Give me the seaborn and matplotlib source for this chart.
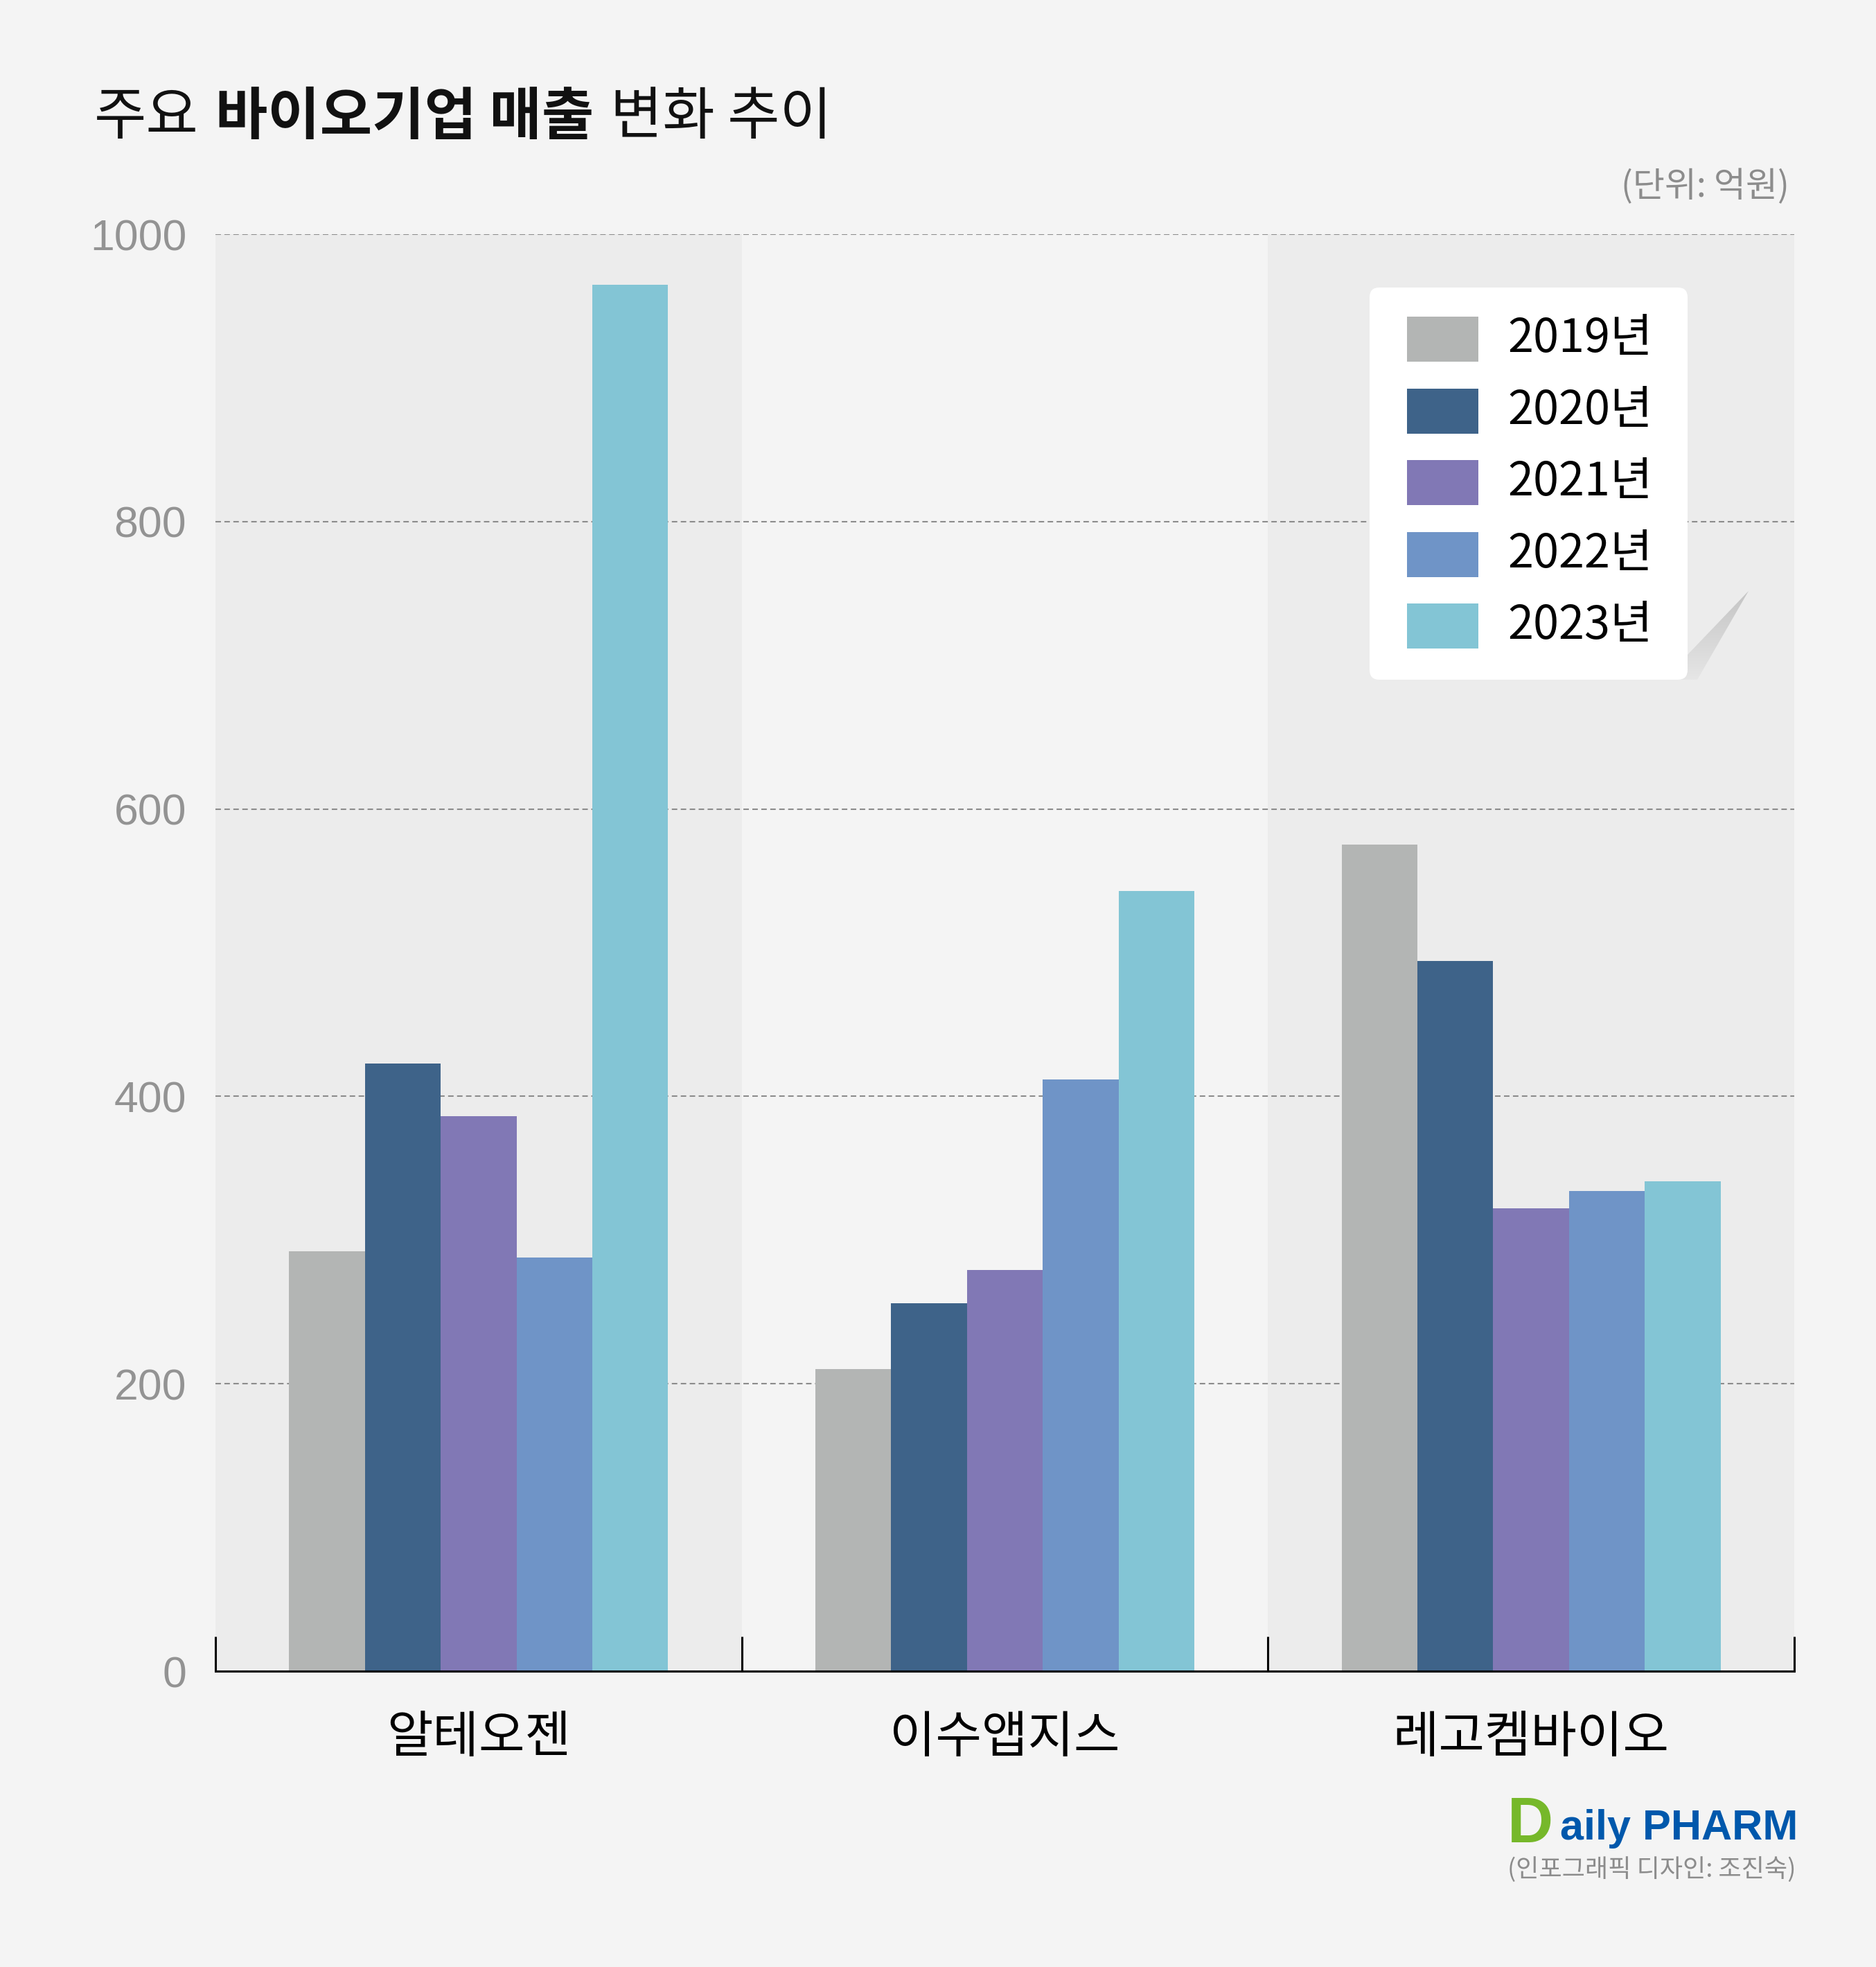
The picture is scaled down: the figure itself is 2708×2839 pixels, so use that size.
import numpy as np
import pandas as pd
import matplotlib
matplotlib.use('Agg')
import matplotlib.pyplot as plt
import seaborn as sns
from matplotlib.patches import FancyBboxPatch, Polygon, Rectangle
from matplotlib.colors import LinearSegmentedColormap

# ---------------- data ----------------
companies = ['알테오젠', '이수앱지스', '레고켐바이오']
years = ['2019년', '2020년', '2021년', '2022년', '2023년']
sales_2019 = [292, 210, 575]
sales_2020 = [423, 256, 494]
sales_2021 = [386, 279, 322]
sales_2022 = [288, 412, 334]
sales_2023 = [965, 543, 341]
year_colors = ['#B3B5B4', '#3E6389', '#8178B5', '#6F94C7', '#83C5D5']
y_ticks = [0, 200, 400, 600, 800, 1000]
title_parts = [('주요', 'normal'), ('바이오기업 매출', 'bold'), ('변화 추이', 'normal')]
unit_text = '(단위: 억원)'
credit_text = '(인포그래픽 디자인: 조진숙)'

series = [sales_2019, sales_2020, sales_2021, sales_2022, sales_2023]
rows = [(c, y, v) for y, vals in zip(years, series) for c, v in zip(companies, vals)]
df = pd.DataFrame(rows, columns=['company', 'year', 'value'])

# ---------------- figure ----------------
W, H = 2708, 2839
BG = '#F4F4F4'
BAND = '#ECECEC'
sns.set_theme(style='white')
plt.rcParams['font.family'] = ['Noto Sans CJK KR', 'DejaVu Sans']

fig = plt.figure(figsize=(W / 100, H / 100), dpi=100, facecolor=BG)
ax = fig.add_axes([311 / W, 1 - 2412 / H, (2590 - 311) / W, (2412 - 338) / H])
ax.set_facecolor(BG)

sns.barplot(data=df, x='company', y='value', hue='year', order=companies,
            hue_order=years, palette=year_colors, width=0.72, saturation=1,
            linewidth=0, errorbar=None, legend=False, ax=ax, zorder=2)

for i in (0, 2):
    ax.axvspan(i - 0.5, i + 0.5, color=BAND, lw=0, zorder=0.1)

ax.set_xlim(-0.5, 2.5)
ax.set_ylim(0, 1000)
ax.set_axisbelow(True)
ax.yaxis.grid(True, color='#8C8C8C', lw=1.5, ls=(0, (3.8, 2.4)))
ax.xaxis.grid(False)
ax.set_xlabel('')
ax.set_ylabel('')

ax.set_yticks(y_ticks)
ax.set_yticklabels([str(v) for v in y_ticks])
ax.tick_params(axis='y', length=0, pad=30, labelsize=45, labelcolor='#939393')
for lab in ax.get_yticklabels():
    lab.set_fontfamily(['Liberation Sans', 'DejaVu Sans'])

ax.tick_params(axis='x', which='major', length=0, pad=43, labelsize=52, labelcolor='black')
ax.set_xticks([-0.5, 0.5, 1.5, 2.5], minor=True)
ax.tick_params(axis='x', which='minor', direction='in', length=36, width=2.2,
               color='black', bottom=True)

for s in ('left', 'top', 'right'):
    ax.spines[s].set_visible(False)
ax.spines['bottom'].set_color('black')
ax.spines['bottom'].set_linewidth(2.2)
ax.spines['bottom'].set_zorder(5)

# ---------------- overlay in pixel coords ----------------
ov = fig.add_axes([0, 0, 1, 1], zorder=5)
ov.set_xlim(0, W)
ov.set_ylim(H, 0)
ov.axis('off')
ov.patch.set_alpha(0)

# legend page-curl shadow
curl = Polygon([(2436, 945), (2524, 853), (2450, 981), (2420, 981)],
               closed=True, fc='none', ec='none')
ov.add_patch(curl)
grad = np.linspace(0, 1, 100).reshape(-1, 1) * np.ones((1, 100))
cmap = LinearSegmentedColormap.from_list('curl', ['#E6E6E6', '#C4C4C4'])
im = ov.imshow(grad, extent=(2420, 2524, 853, 981), cmap=cmap, origin='upper',
               aspect='auto', zorder=1)
im.set_clip_path(curl)
ov.set_xlim(0, W)
ov.set_ylim(H, 0)

box = FancyBboxPatch((1977, 415), 459, 566, boxstyle='round,pad=0,rounding_size=14',
                     fc='white', ec='none', zorder=2)
ov.add_patch(box)
for i, (yr, col) in enumerate(zip(years, year_colors)):
    cy = 489.5 + i * 103.5
    ov.add_patch(Rectangle((2031, cy - 32.5), 103, 65, fc=col, ec='none', zorder=3))
    ov.text(2386, cy, yr, ha='right', va='center', fontsize=48, color='black', zorder=4)

# title
fig.canvas.draw()
r = fig.canvas.get_renderer()
x = 136
gap = 24
for txt, wt in title_parts:
    t = ov.text(x, 170, txt, fontsize=59, fontweight=wt, va='center', ha='left',
                color='#111111')
    bb = t.get_window_extent(renderer=r)
    x += bb.width + gap

ov.text(2583, 270, unit_text, ha='right', va='center', fontsize=36, color='#8C8C8C')

# logo
ov.text(2176, 2659, 'D', ha='left', va='baseline', fontsize=66, fontweight='bold',
        color='#76B82A', fontfamily=['Liberation Sans', 'DejaVu Sans'])
ov.text(2252, 2655, 'aily PHARM', ha='left', va='baseline', fontsize=44, fontweight='bold',
        color='#0058AC', fontfamily=['Liberation Sans', 'DejaVu Sans'])
ov.text(2592, 2699, credit_text, ha='right', va='center', fontsize=26, color='#8C8C8C')

fig.savefig('out.png', dpi=100, facecolor=BG)
